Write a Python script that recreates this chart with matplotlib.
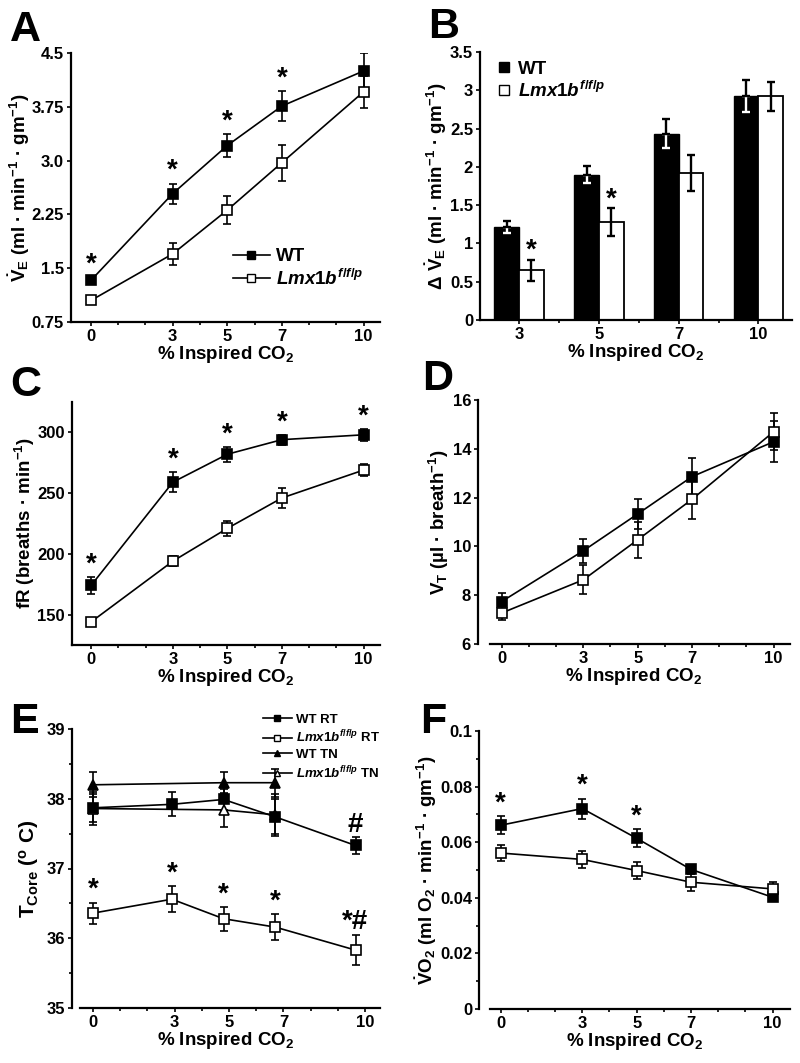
import matplotlib
matplotlib.use('Agg')
import matplotlib.pyplot as plt
from matplotlib.lines import Line2D
import numpy as np

plt.rcParams['font.family'] = ['Liberation Sans', 'DejaVu Sans']
plt.rcParams['font.weight'] = 'bold'
plt.rcParams['axes.labelweight'] = 'bold'
plt.rcParams['mathtext.fontset'] = 'custom'
plt.rcParams['mathtext.rm'] = 'Liberation Sans:bold'
plt.rcParams['mathtext.it'] = 'Liberation Sans:bold:italic'
plt.rcParams['mathtext.bf'] = 'Liberation Sans:bold'
plt.rcParams['mathtext.default'] = 'rm'

# ---------------- data ----------------
co2 = [0, 3, 5, 7, 10]
co2_minor = [1, 2, 4, 6, 8, 9]

# A: minute ventilation
A_wt = [1.33, 2.54, 3.21, 3.76, 4.25]
A_wt_err = [0.05, 0.14, 0.16, 0.21, 0.25]
A_ko = [1.05, 1.70, 2.31, 2.97, 3.96]
A_ko_err = [0.03, 0.15, 0.20, 0.25, 0.22]
A_sig = [True, True, True, True, False]
A_yticks = [0.75, 1.5, 2.25, 3.0, 3.75, 4.5]
A_yticklabels = ['0.75', '1.5', '2.25', '3.0', '3.75', '4.5']

# B: delta ventilation
B_cats = ['3', '5', '7', '10']
B_wt = [1.21, 1.90, 2.43, 2.93]
B_wt_err = [0.08, 0.11, 0.19, 0.21]
B_ko = [0.65, 1.28, 1.92, 2.92]
B_ko_err = [0.14, 0.18, 0.23, 0.19]
B_sig = [True, True, False, False]
B_yticks = [0, 0.5, 1, 1.5, 2, 2.5, 3, 3.5]
B_yticklabels = ['0', '0.5', '1', '1.5', '2', '2.5', '3', '3.5']

# C: frequency
C_wt = [174, 259, 282, 294, 298]
C_wt_err = [7, 8, 6, 4, 5]
C_ko = [144, 194, 221, 246, 269]
C_ko_err = [3, 4, 6, 8, 5]
C_sig = [True, True, True, True, True]
C_yticks = [150, 200, 250, 300]

# D: tidal volume
D_wt = [7.74, 9.82, 11.33, 12.86, 14.29]
D_wt_err = [0.35, 0.50, 0.60, 0.75, 0.85]
D_ko = [7.27, 8.63, 10.27, 11.93, 14.70]
D_ko_err = [0.30, 0.60, 0.75, 0.80, 0.75]
D_yticks = [6, 8, 10, 12, 14, 16]

# E: core temperature
E_x = [0, 2.9, 4.8, 6.7, 9.65]
E_wt_rt = [37.87, 37.92, 37.99, 37.74, 37.33]
E_wt_rt_err = [0.20, 0.17, 0.15, 0.25, 0.12]
E_ko_rt = [36.36, 36.56, 36.28, 36.16, 35.83]
E_ko_rt_err = [0.15, 0.19, 0.17, 0.19, 0.22]
E_tn_x = [0, 4.8, 6.7]
E_wt_tn = [38.20, 38.23, 38.23]
E_wt_tn_err = [0.18, 0.16, 0.20]
E_ko_tn = [37.86, 37.84, 37.77]
E_ko_tn_err = [0.24, 0.24, 0.30]
E_ko_marks = ['*', '*', '*', '*', '*#']
E_wt_marks = ['', '', '', '', '#']
E_yticks = [35, 36, 37, 38, 39]

# F: oxygen consumption
F_wt = [0.0661, 0.0721, 0.0614, 0.0502, 0.0402]
F_wt_err = [0.0032, 0.0036, 0.0033, 0.0010, 0.0010]
F_ko = [0.0561, 0.0538, 0.0498, 0.0456, 0.0432]
F_ko_err = [0.0030, 0.0031, 0.0030, 0.0030, 0.0026]
F_sig = [True, True, True, False, False]
F_yticks = [0, 0.02, 0.04, 0.06, 0.08, 0.1]
F_yticklabels = ['0', '0.02', '0.04', '0.06', '0.08', '0.1']

KO = r'$\mathit{Lmx1b}^{\mathit{f/f/p}}$'
XLAB = r'% Inspired CO$_2$'

W, H = 800, 1063
fig = plt.figure(figsize=(W / 100, H / 100), dpi=100)


def add_ax(left, top, right, bottom):
    return fig.add_axes([left / W, 1 - bottom / H, (right - left) / W, (bottom - top) / H])


def style(ax, yticks, ylabels=None, xlim=None, xstart=None):
    for s in ['top', 'right']:
        ax.spines[s].set_visible(False)
    for s in ['left', 'bottom']:
        ax.spines[s].set_linewidth(1.6)
    ax.tick_params(which='major', direction='out', length=3, width=1.2, pad=2)
    ax.tick_params(which='minor', direction='out', length=2.5, width=1.2)
    ax.set_yticks(yticks)
    if ylabels is None:
        ylabels = [str(t) for t in yticks]
    ax.set_yticklabels(ylabels, fontsize=12, fontweight='bold')
    if xlim is not None:
        ax.set_xlim(*xlim)
        ax.set_xticks(co2)
        ax.set_xticks(co2_minor, minor=True)
        ax.set_xticklabels([str(c) for c in co2], fontsize=12, fontweight='bold')
        if xstart is not None:
            ax.spines['bottom'].set_bounds(xstart, xlim[1])
    ax.set_xlabel(XLAB, fontsize=13.5, labelpad=0, fontweight='bold')


def series(ax, x, y, err, mfc, marker='s', ms=7):
    ax.errorbar(x, y, yerr=err, fmt='none', ecolor='black', elinewidth=1.2,
                capsize=3, capthick=1.2, zorder=2)
    ax.plot(x, y, color='black', lw=1.2, marker=marker, ms=ms, mfc=mfc,
            mec='black', mew=1.2, zorder=3)


def stars(ax, x, top, marks, off=4, fs=20):
    for xi, ti, m in zip(x, top, marks):
        if m:
            ax.annotate(m, xy=(xi, ti), xytext=(0, off), textcoords='offset points',
                        ha='center', va='baseline', fontsize=fs, fontweight='bold')


def ylab(ax, text, fs=13.5, pad=1):
    ax.set_ylabel(text, fontsize=fs, labelpad=pad, fontweight='bold')


# ---------------- A ----------------
axA = add_ax(71, 53, 380, 322)
series(axA, co2, A_wt, A_wt_err, 'black')
series(axA, co2, A_ko, A_ko_err, 'white')
axA.set_ylim(0.75, 4.5)
style(axA, A_yticks, A_yticklabels, xlim=(-0.73, 10.6))
stars(axA, co2, np.array(A_wt) + np.array(A_wt_err), ['*' if s else '' for s in A_sig])
ylab(axA, r'$\dot{V}_{E}$ (ml · min$^{-1}$ · gm$^{-1}$)', pad=0)
hA = [Line2D([], [], color='black', lw=1.2, marker='s', ms=6, mfc='black', mec='black'),
      Line2D([], [], color='black', lw=1.2, marker='s', ms=6, mfc='white', mec='black')]
axA.legend(hA, ['WT', KO], loc='lower right', bbox_to_anchor=(1.0, 0.06), frameon=False,
           prop={'size': 13.5, 'weight': 'bold'}, handlelength=2.0, handletextpad=0.3,
           labelspacing=0.2)

# ---------------- B ----------------
axB = add_ax(480, 52, 792, 320)
xb = np.arange(len(B_cats))
bw = 0.31
axB.bar(xb - bw / 2, B_wt, bw, color='black', edgecolor='black', lw=1, zorder=2)
axB.bar(xb + bw / 2, B_ko, bw, color='white', edgecolor='black', lw=1.3, zorder=2)
# WT error: white inside the bar, black above
axB.errorbar(xb - bw / 2, B_wt, yerr=[B_wt_err, [0] * 4], fmt='none', ecolor='white',
             elinewidth=1.7, capsize=3, capthick=1.7, zorder=3)
axB.errorbar(xb - bw / 2, B_wt, yerr=[[0] * 4, B_wt_err], fmt='none', ecolor='black',
             elinewidth=1.7, capsize=3, capthick=1.7, zorder=3)
axB.errorbar(xb + bw / 2, B_ko, yerr=B_ko_err, fmt='none', ecolor='black',
             elinewidth=1.7, capsize=3, capthick=1.7, zorder=3)
axB.set_ylim(0, 3.5)
axB.set_xlim(-0.49, 3.42)
axB.set_xticks(xb)
axB.set_xticklabels(B_cats, fontsize=12, fontweight='bold')
axB.set_xticks([0.5, 1.5, 2.5], minor=True)
style(axB, B_yticks, B_yticklabels)
stars(axB, xb + bw / 2, np.array(B_ko) + np.array(B_ko_err),
      ['*' if s else '' for s in B_sig], off=1)
ylab(axB, r'$\Delta\ \dot{V}_{E}$ (ml · min$^{-1}$ · gm$^{-1}$)')
hB = [Line2D([], [], ls='none', marker='s', ms=7, mfc='black', mec='black'),
      Line2D([], [], ls='none', marker='s', ms=7, mfc='white', mec='black')]
axB.legend(hB, ['WT', KO], loc='upper left', bbox_to_anchor=(0.0, 1.03), frameon=False,
           prop={'size': 13.5, 'weight': 'bold'}, handlelength=0.8, handletextpad=0.3,
           labelspacing=0.15)

# ---------------- C ----------------
axC = add_ax(72, 402, 380, 645)
series(axC, co2, C_wt, C_wt_err, 'black')
series(axC, co2, C_ko, C_ko_err, 'white')
axC.set_ylim(125, 325)
style(axC, C_yticks, xlim=(-0.7, 10.6))
stars(axC, co2, np.array(C_wt) + np.array(C_wt_err), ['*' if s else '' for s in C_sig])
ylab(axC, r'fR (breaths · min$^{-1}$)', pad=0)

# ---------------- D ----------------
axD = add_ax(478, 400, 790, 644)
series(axD, co2, D_wt, D_wt_err, 'black')
series(axD, co2, D_ko, D_ko_err, 'white')
axD.set_ylim(6, 16)
style(axD, D_yticks, xlim=(-0.87, 10.6), xstart=-0.43)
ylab(axD, r'V$_{T}$ (µl · breath$^{-1}$)')

# ---------------- E ----------------
axE = add_ax(72, 729, 380, 1008)
series(axE, E_tn_x, E_wt_tn, E_wt_tn_err, 'black', marker='^', ms=7)
series(axE, E_tn_x, E_ko_tn, E_ko_tn_err, 'white', marker='^', ms=7)
series(axE, E_x, E_wt_rt, E_wt_rt_err, 'black', ms=7)
series(axE, E_x, E_ko_rt, E_ko_rt_err, 'white', ms=7)
axE.set_ylim(35, 39)
style(axE, E_yticks, xlim=(-0.77, 10.55), xstart=-0.47)
axE.set_yticks([35.5, 36.5, 37.5, 38.5], minor=True)
stars(axE, E_x, np.array(E_ko_rt) + np.array(E_ko_rt_err), E_ko_marks)
stars(axE, E_x, np.array(E_wt_rt) + np.array(E_wt_rt_err), E_wt_marks)
ylab(axE, r'T$_{\mathrm{Core}}$ ($^{\mathrm{o}}$ C)', fs=15, pad=4)
hE = [Line2D([], [], color='black', lw=1.2, marker='s', ms=5, mfc='black', mec='black'),
      Line2D([], [], color='black', lw=1.2, marker='s', ms=5, mfc='white', mec='black'),
      Line2D([], [], color='black', lw=1.2, marker='^', ms=5, mfc='black', mec='black'),
      Line2D([], [], color='black', lw=1.2, marker='^', ms=5, mfc='white', mec='black')]
axE.legend(hE, ['WT RT', KO + ' RT', 'WT TN', KO + ' TN'], loc='upper right',
           bbox_to_anchor=(1.02, 1.08), frameon=False, prop={'size': 9.5, 'weight': 'bold'},
           handlelength=2.2, handletextpad=0.3, labelspacing=0.25, borderpad=0)

# ---------------- F ----------------
axF = add_ax(479, 731, 790, 1009)
series(axF, co2, F_wt, F_wt_err, 'black', ms=6.5)
series(axF, co2, F_ko, F_ko_err, 'white', ms=6.5)
axF.set_ylim(0, 0.1)
style(axF, F_yticks, F_yticklabels, xlim=(-0.8, 10.64), xstart=-0.4)
axF.set_yticks([0.01, 0.03, 0.05, 0.07, 0.09], minor=True)
stars(axF, co2, np.array(F_wt) + np.array(F_wt_err), ['*' if s else '' for s in F_sig])
ylab(axF, r'$\dot{V}$O$_2$ (ml O$_2$ · min$^{-1}$ · gm$^{-1}$)')

# ---------------- panel letters ----------------
for letter, (px, py) in zip('ABCDEF', [(10, 41), (428, 38), (10, 396), (422, 390),
                                      (10, 733), (420, 733)]):
    fig.text(px / W, 1 - py / H, letter, fontsize=31, fontweight='bold',
             ha='left', va='baseline')

fig.savefig('out.png', dpi=100)
